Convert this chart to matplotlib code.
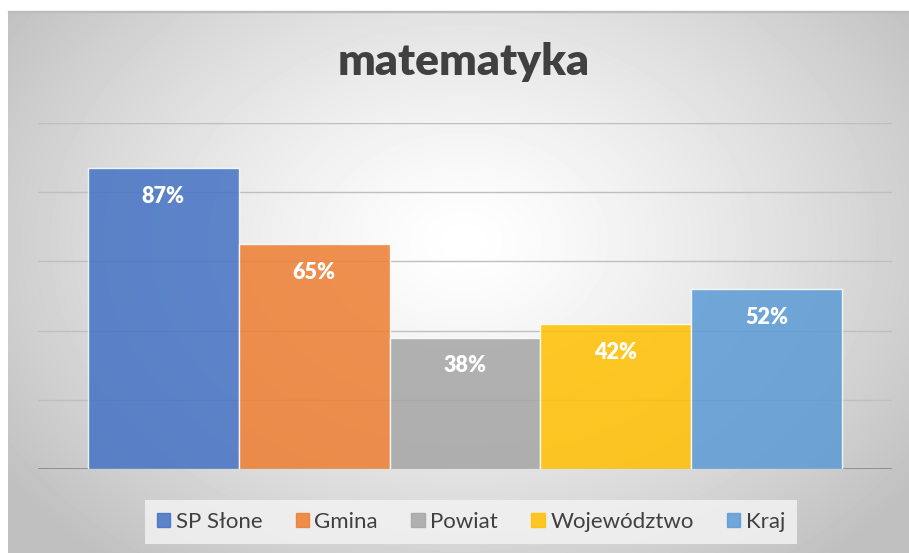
import matplotlib.pyplot as plt
import numpy as np
from matplotlib.patches import Rectangle

categories = ['SP Słone', 'Gmina', 'Powiat', 'Województwo', 'Kraj']
values = [87, 65, 38, 42, 52]
labels = ['87%', '65%', '38%', '42%', '52%']
colors = ['#4472C4', '#ED7D31', '#A5A5A5', '#FFC000', '#5B9BD5']

plt.rcParams['font.family'] = ['Lato', 'DejaVu Sans']

fig = plt.figure(figsize=(9.09, 5.53), dpi=100)
W, H = 909, 553

# radial gradient background of the chart area
bg = fig.add_axes([8 / W, 0, 1 - 8 / W, 1 - 11 / H], zorder=0)
yy, xx = np.mgrid[0:542, 0:901]
cx, cy = 455, 230
r = np.sqrt(((xx - cx) / 560.0) ** 2 + ((yy - cy) / 420.0) ** 2)
shade = 1.0 - 0.25 * np.clip(r, 0, 1) ** 1.3
bg.imshow(shade, cmap='gray', vmin=0, vmax=1, aspect='auto', interpolation='bilinear')
bg.axis('off')
fig.add_artist(Rectangle((8 / W, 1 - 12 / H), 1, 1.5 / H, transform=fig.transFigure,
                         color='#bcbcbc', zorder=1))

ax = fig.add_axes([38 / W, 84 / H, 854 / W, 346 / H], zorder=2)
ax.patch.set_alpha(0)
x = np.arange(len(categories))
bars = ax.bar(x, values, width=1.0, color=colors, alpha=0.85,
              edgecolor=(1, 1, 1, 0.4), linewidth=1.0, zorder=3)
ax.set_xlim(-0.831, 4.831)
ax.set_ylim(0, 100)
ax.set_yticks([0, 20, 40, 60, 80, 100])
ax.grid(axis='y', color='#bfbfbf', linewidth=1, zorder=1)
ax.set_xticks([])
ax.tick_params(axis='y', length=0, labelleft=False)
for s in ax.spines.values():
    s.set_visible(False)
ax.axhline(0, color='#8c8c8c', linewidth=1.3, zorder=2)

for xi, v, lab in zip(x, values, labels):
    ax.annotate(lab, (xi, v), xytext=(0, -20.5), textcoords='offset points',
                ha='center', va='center', color='white', fontsize=15.5,
                fontweight='heavy', zorder=4)

fig.text(464 / W, 1 - 62 / H, 'matematyka', ha='center', va='center',
         fontsize=32, fontweight='heavy', color='#404040')

handles = [Rectangle((0, 0), 1, 1, color=c, alpha=0.85) for c in colors]
leg = fig.legend(handles, categories, loc='center', bbox_to_anchor=(471 / W, 31 / H),
                 ncol=5, frameon=True, fontsize=16, handlelength=0.6, handleheight=0.6,
                 handletextpad=0.25, columnspacing=1.5, borderpad=0.55, fancybox=False)
leg.get_frame().set_facecolor('#f2f2f2')
leg.get_frame().set_alpha(0.85)
leg.get_frame().set_edgecolor('none')
for t in leg.get_texts():
    t.set_color('#404040')

fig.savefig('out.png', dpi=100)
